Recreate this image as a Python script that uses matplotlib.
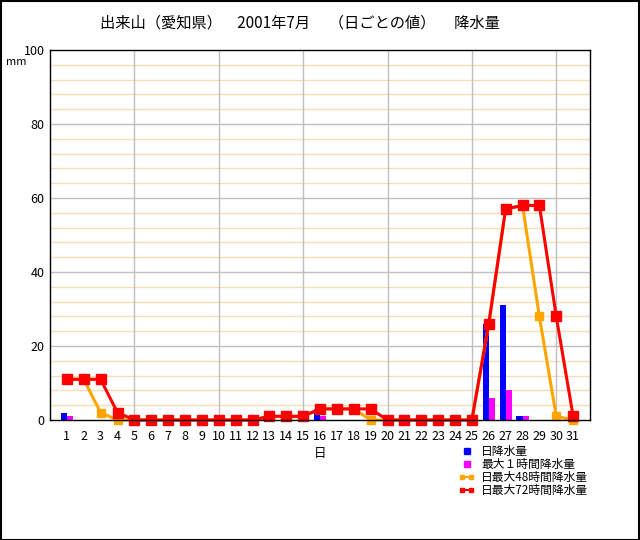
import matplotlib
matplotlib.use("Agg")
import matplotlib.pyplot as plt
from matplotlib.lines import Line2D
from matplotlib.patches import Rectangle
from matplotlib.legend_handler import HandlerLine2D

plt.rcParams['font.family'] = ['Noto Sans CJK JP', 'DejaVu Sans']

days = list(range(1, 32))
daily = [2, 0, 0, 0, 0, 0, 0, 0, 0, 0, 0, 0, 0.5, 0, 0, 3, 0, 0, 0, 0,
         0, 0, 0, 0, 0, 26, 31, 1, 0, 0, 0]
max1h = [1, 0, 0, 0, 0, 0, 0, 0, 0, 0, 0, 0, 0.5, 0, 0, 1, 0, 0, 0, 0,
         0, 0, 0, 0, 0, 6, 8, 1, 0, 0, 0]
max48h = [11, 11, 2, 0, 0, 0, 0, 0, 0, 0, 0, 0, 1, 1, 1, 3, 3, 3, 0, 0,
          0, 0, 0, 0, 0, 26, 57, 58, 28, 1, 0]
max72h = [11, 11, 11, 2, 0, 0, 0, 0, 0, 0, 0, 0, 1, 1, 1, 3, 3, 3, 3, 0,
          0, 0, 0, 0, 0, 26, 57, 58, 58, 28, 1]

title = "出来山（愛知県）　2001年7月　 （日ごとの値）　 降水量"
labels = ["日降水量", "最大１時間降水量", "日最大48時間降水量", "日最大72時間降水量"]

W, H = 640, 540
fig = plt.figure(figsize=(6.4, 5.4), dpi=100)
fig.patch.set_facecolor('white')
ax = fig.add_axes([50 / W, 1 - 420 / H, 540 / W, 370 / H])

bw = 0.36
ax.bar([d - bw / 2 for d in days], daily, width=bw, color='#0000FF', zorder=3)
ax.bar([d + bw / 2 for d in days], max1h, width=bw, color='#FF00FF', zorder=3)
ax.plot(days, max48h, color='#FFA500', lw=2.2, marker='s', ms=5.5,
        zorder=4, clip_on=False)
ax.plot(days, max72h, color='#FF0000', lw=2.2, marker='s', ms=6.5,
        zorder=5, clip_on=False)

ax.set_xlim(0, 32)
ax.set_ylim(0, 100)
ax.set_xticks(days)
ax.set_xticks([5, 10, 15, 20, 25, 30], minor=True)
ax.set_yticks(range(0, 101, 20))
ax.set_yticks(range(0, 101, 4), minor=True)
ax.tick_params(axis='both', which='both', length=0)
ax.tick_params(axis='x', which='major', labelsize=9, pad=7)
ax.tick_params(axis='y', which='major', labelsize=9, pad=4)
ax.grid(False)
for v in range(4, 100, 4):
    if v % 20:
        ax.axhline(v, color='#F5DEB3', lw=1, zorder=1)
for v in range(20, 100, 20):
    ax.axhline(v, color='#C0C0C0', lw=1, zorder=1)
for v in range(5, 32, 5):
    ax.axvline(v, color='#C0C0C0', lw=1, zorder=1)
for s in ax.spines.values():
    s.set_color('black')
    s.set_linewidth(1)
ax.spines['bottom'].set_zorder(6)

ax.set_xlabel("日", fontsize=9, labelpad=3)
fig.text(300 / W, 1 - 23 / H, title, ha='center', va='center', fontsize=11)
fig.text(16 / W, 1 - 62 / H, "mm", ha='center', va='center', fontsize=8)

handles = [
    Line2D([], [], ls='none', marker='s', color='#0000FF', ms=5),
    Line2D([], [], ls='none', marker='s', color='#FF00FF', ms=5),
    Line2D([], [], color='#FFA500', lw=1.5, marker='s', ms=2.5),
    Line2D([], [], color='#FF0000', lw=1.5, marker='s', ms=2.5),
]
hm = {handles[0]: HandlerLine2D(numpoints=1), handles[1]: HandlerLine2D(numpoints=1)}
fig.legend(handles, labels, loc='upper left', bbox_to_anchor=(453 / W, 1 - 439 / H),
           frameon=False, fontsize=8.5, handlelength=1.3, handletextpad=0.6,
           labelspacing=0.0, borderpad=0, numpoints=2, handler_map=hm)

fig.patches.append(Rectangle((0.5 / W, 0.5 / H), 638.5 / W, 538.5 / H, transform=fig.transFigure,
                             fill=False, edgecolor='black', lw=1.5))

fig.savefig("out.png", dpi=100)
